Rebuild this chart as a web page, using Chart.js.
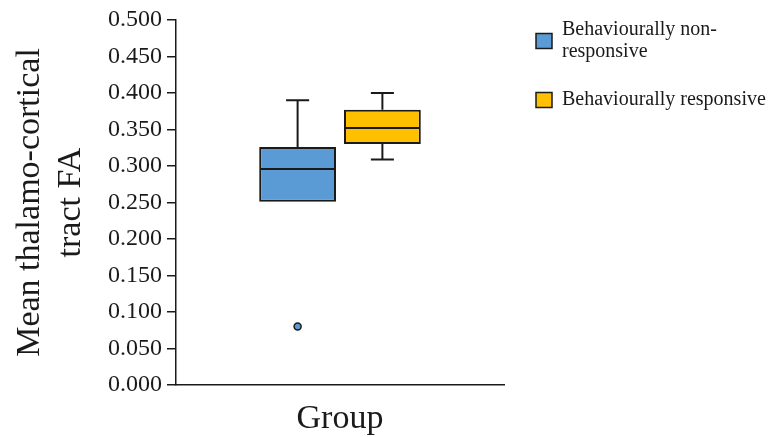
<!DOCTYPE html>
<html>
<head>
<meta charset="utf-8">
<script src="https://cdn.jsdelivr.net/npm/chart.js@4"></script>
<style>
  html, body { margin: 0; padding: 0; background: #ffffff; }
  #wrap { width: 768px; height: 437px; }
</style>
</head>
<body>
<div id="wrap"><canvas id="chart" width="768" height="437"></canvas></div>
<script>
// Box plot summaries per group
const groups = ['Behaviourally non-responsive', 'Behaviourally responsive'];
const legendLines = [['Behaviourally non-', 'responsive'], ['Behaviourally responsive']];
const groupColors = ['#5B9BD5', '#FFC000'];
const whiskerLow = [0.251, 0.309];
const q1 = [0.251, 0.330];
const median = [0.296, 0.352];
const q3 = [0.326, 0.377];
const whiskerHigh = [0.390, 0.400];
const outliers = [[0.080], []];
const categories = ['Group'];
const yMin = 0, yMax = 0.5, yStep = 0.05;

const SERIF = '"Liberation Serif", "Times New Roman", serif';
const INK = '#1a1a1a';

// Whiskers, medians and outlier points drawn on top of the floating bars
const boxPlotExtras = {
  id: 'boxPlotExtras',
  afterDatasetsDraw(chart) {
    const ctx = chart.ctx;
    const y = chart.scales.y;
    chart.data.datasets.forEach((ds, i) => {
      const meta = chart.getDatasetMeta(i);
      const bar = meta.data[0];
      if (!bar) return;
      const cx = bar.x;
      const half = bar.width / 2;
      const cap = bar.width * 0.15;
      ctx.save();
      ctx.strokeStyle = INK;
      ctx.lineWidth = 2;
      ctx.beginPath();
      // upper whisker
      if (whiskerHigh[i] > q3[i]) {
        ctx.moveTo(cx, y.getPixelForValue(q3[i]));
        ctx.lineTo(cx, y.getPixelForValue(whiskerHigh[i]));
        ctx.moveTo(cx - cap, y.getPixelForValue(whiskerHigh[i]));
        ctx.lineTo(cx + cap, y.getPixelForValue(whiskerHigh[i]));
      }
      // lower whisker
      if (whiskerLow[i] < q1[i]) {
        ctx.moveTo(cx, y.getPixelForValue(q1[i]));
        ctx.lineTo(cx, y.getPixelForValue(whiskerLow[i]));
        ctx.moveTo(cx - cap, y.getPixelForValue(whiskerLow[i]));
        ctx.lineTo(cx + cap, y.getPixelForValue(whiskerLow[i]));
      }
      // median
      const my = y.getPixelForValue(median[i]);
      ctx.moveTo(cx - half + 1, my);
      ctx.lineTo(cx + half - 1, my);
      ctx.stroke();
      // outliers
      outliers[i].forEach(v => {
        ctx.beginPath();
        ctx.arc(cx, y.getPixelForValue(v), 3.5, 0, Math.PI * 2);
        ctx.fillStyle = groupColors[i];
        ctx.fill();
        ctx.lineWidth = 1.5;
        ctx.stroke();
      });
      ctx.restore();
    });
  }
};

// Legend on the right with wrapped labels
const sideLegend = {
  id: 'sideLegend',
  afterDraw(chart) {
    const ctx = chart.ctx;
    const boxX = 536, boxW = 16, boxH = 15, textX = 562, lineH = 22;
    const centers = [41, 100];
    ctx.save();
    ctx.font = '20px ' + SERIF;
    ctx.textBaseline = 'middle';
    chart.data.datasets.forEach((ds, i) => {
      const c = centers[i];
      ctx.fillStyle = groupColors[i];
      ctx.fillRect(boxX, c - boxH / 2, boxW, boxH);
      ctx.strokeStyle = INK;
      ctx.lineWidth = 1.5;
      ctx.strokeRect(boxX, c - boxH / 2, boxW, boxH);
      ctx.fillStyle = INK;
      const lines = legendLines[i];
      const start = c - (lines.length - 1) * lineH / 2;
      lines.forEach((t, k) => ctx.fillText(t, textX, start + k * lineH));
    });
    ctx.restore();
  }
};

const datasets = groups.map((g, i) => ({
  label: g,
  data: [[q1[i], q3[i]]],
  backgroundColor: groupColors[i],
  borderColor: INK,
  borderWidth: 2,
  borderSkipped: false
}));

new Chart(document.getElementById('chart'), {
  type: 'bar',
  data: { labels: categories, datasets },
  options: {
    responsive: false,
    devicePixelRatio: 1,
    animation: false,
    categoryPercentage: 0.517,
    barPercentage: 0.906,
    layout: { padding: { top: 20, right: 264, left: 0, bottom: 0 } },
    plugins: { legend: { display: false }, tooltip: { enabled: false } },
    scales: {
      x: {
        grid: { display: false, drawTicks: false },
        border: { display: true, color: INK, width: 1.5 },
        ticks: { display: false },
        title: {
          display: true,
          text: 'Group',
          color: INK,
          font: { family: SERIF, size: 34, lineHeight: 1.05 },
          padding: { top: 0, bottom: 0 }
        },
        afterFit(scale) { scale.height = 52; }
      },
      y: {
        min: yMin,
        max: yMax,
        grid: { display: true, drawOnChartArea: false, drawTicks: true, tickLength: 9, color: INK, lineWidth: 1.5 },
        border: { display: true, color: INK, width: 1.5 },
        ticks: {
          stepSize: yStep,
          padding: 5,
          color: INK,
          font: { family: SERIF, size: 24 },
          callback: v => Number(v).toFixed(3)
        },
        title: {
          display: true,
          text: ['Mean thalamo-cortical', 'tract FA'],
          color: INK,
          font: { family: SERIF, size: 34, lineHeight: 1.2 },
          padding: { top: 10, bottom: 0 }
        },
        afterFit(scale) { scale.width = 176; }
      }
    }
  },
  plugins: [boxPlotExtras, sideLegend]
});
</script>
</body>
</html>
